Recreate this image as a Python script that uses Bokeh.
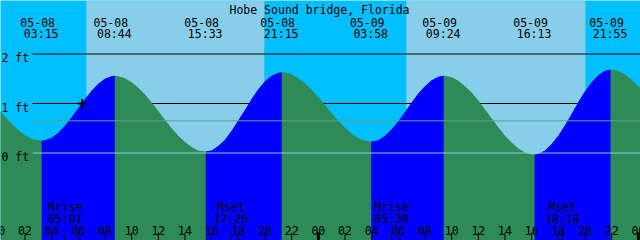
from bokeh.plotting import figure
from bokeh.models import Range1d
from bokeh.core.properties import value
from bokeh.embed import file_html
from bokeh.resources import INLINE

TITLE = "Hobe Sound bridge, Florida"

# tide extremes, hours after 05-08 00:00, feet
ext_hours = [-3.5, 3.25, 8.733, 15.55, 21.25, 27.967, 33.4, 40.217, 45.917, 52.6]
ext_heights = [1.60, 0.25, 1.56, 0.03, 1.63, 0.23, 1.56, -0.03, 1.68, 0.20]
ext_kind = ["H", "L", "H", "L", "H", "L", "H", "L", "H", "L"]

# labelled extremes
event_hours = [3.25, 8.733, 15.55, 21.25, 27.967, 33.4, 40.217, 45.917]
event_dates = ["05-08", "05-08", "05-08", "05-08", "05-09", "05-09", "05-09", "05-09"]
event_times = ["03:15", "08:44", "15:33", "21:15", "03:58", "09:24", "16:13", "21:55"]

# tide height read every half hour (hour 0.0 .. 49.0)
sample_hours = [i * 0.5 for i in range(99)]
sample_heights = [
    0.89, 0.73, 0.59, 0.46, 0.36, 0.29, 0.26, 0.26, 0.31, 0.41,
    0.55, 0.72, 0.91, 1.09, 1.26, 1.40, 1.50, 1.55, 1.55, 1.51,
    1.43, 1.32, 1.18, 1.02, 0.85, 0.67, 0.50, 0.35, 0.22, 0.12,
    0.05, 0.03, 0.05, 0.14, 0.27, 0.45, 0.66, 0.87, 1.09, 1.29,
    1.45, 1.56, 1.62, 1.63, 1.59, 1.51, 1.41, 1.28, 1.13, 0.97,
    0.80, 0.65, 0.51, 0.39, 0.30, 0.25, 0.23, 0.26, 0.35, 0.48,
    0.64, 0.83, 1.02, 1.20, 1.35, 1.47, 1.54, 1.56, 1.53, 1.46,
    1.35, 1.22, 1.06, 0.88, 0.70, 0.52, 0.35, 0.21, 0.09, 0.01,
    -0.03, -0.02, 0.05, 0.18, 0.35, 0.56, 0.79, 1.03, 1.25, 1.43,
    1.57, 1.66, 1.68, 1.65, 1.59, 1.48, 1.35, 1.20, 1.03]

# sun
sunrise_hours = [6.6, 30.6]
sunset_hours = [19.95, 44.03]

# moon
moon_hours = [5.017, 17.433, 29.5, 42.3]
moon_kinds = ["Mrise", "Mset", "Mrise", "Mset"]
moon_times = ["05:01", "17:26", "05:30", "18:18"]

# hour axis
tick_hours = list(range(0, 50, 2))
tick_labels = ["%02d" % (h % 24) for h in tick_hours]

# levels
level_values = [2, 1, 0]
level_labels = ["2 ft", "1 ft", "0 ft"]
msl_level = 0.65
now_hour, now_height = 6.29, 1.0

# colours
NIGHT = "#00BFFF"
DAY = "#87CEEB"
RISE = "#0000FF"
FALL = "#2E8B57"
DATUM = "#87CEEB"
MSL = "#5FA08C"

W, H = 640, 240
PX_PER_HOUR = 640 / 48.0
X0 = 2.17 / PX_PER_HOUR
X1 = X0 + 48.0
Y_TOP = 152.5 / 49.5
Y_BOT = (152.5 - 240) / 49.5


def sx(px):
    return X0 + px * (X1 - X0) / W


def sy(py):
    return Y_TOP - py * (Y_TOP - Y_BOT) / H


p = figure(width=W, height=H, x_range=Range1d(X0, X1), y_range=Range1d(Y_BOT, Y_TOP),
           toolbar_location=None, output_backend="svg", min_border=0,
           x_axis_location=None, y_axis_location=None)
p.outline_line_color = None
p.xgrid.visible = False
p.ygrid.visible = False
p.background_fill_color = NIGHT
p.border_fill_color = NIGHT

# sky
p.quad(left=sunrise_hours, right=sunset_hours, bottom=Y_BOT, top=Y_TOP,
       fill_color=DAY, line_color=None)

# black level lines (behind water)
line_start = sx(32)
for lv in [2, 1]:
    p.line([line_start, X1], [lv, lv], line_color="black", line_width=1)

# water curve
pts = sorted(set(zip(sample_hours, sample_heights)) | set(zip(ext_hours, ext_heights)))
cx = [a for a, b in pts]
cy = [b for a, b in pts]
p.varea(x=cx, y1=[Y_BOT] * len(cx), y2=cy, fill_color=FALL)
for i in range(len(ext_hours) - 1):
    if ext_kind[i] == "L":
        a, b = ext_hours[i], ext_hours[i + 1]
        seg = [(x, y) for x, y in pts if a <= x <= b]
        p.varea(x=[s[0] for s in seg], y1=[Y_BOT] * len(seg), y2=[s[1] for s in seg],
                fill_color=RISE)

# datum and mean lines
p.line([line_start, X1], [msl_level, msl_level], line_color=MSL, line_width=1)
p.line([line_start, X1], [0, 0], line_color=DATUM, line_width=1)

# now mark
p.scatter([now_hour], [now_height], marker="cross", size=9, line_width=2, line_color="black")

FONT = value("DejaVu Sans Mono")
FS = "11.5px"


def txt(x, y, t, align="center", xo=0):
    p.text(x=x, y=y, text=t, text_font=FONT, text_font_size=FS, text_color="black",
           text_align=align, text_baseline="alphabetic", x_offset=xo)


# title
txt([sx(319)], [sy(9.5)], [TITLE])

# level labels
for lv, lab in zip(level_values, level_labels):
    txt([sx(1)], [lv - 4 / 49.5], [lab], align="left")

# tide events
txt(event_hours, [sy(22)] * len(event_hours), event_dates, xo=-4)
txt(event_hours, [sy(33.5)] * len(event_hours), event_times, xo=-0.5)

# moon events
txt(moon_hours, [sy(206)] * 4, moon_kinds)
txt(moon_hours, [sy(218.5)] * 4, moon_times)

# hour ticks and labels
txt(tick_hours, [sy(229.5)] * len(tick_hours), tick_labels)
norm = [h for h in tick_hours if h % 24 != 0] + moon_hours
p.segment(x0=norm, x1=norm, y0=[sy(232)] * len(norm), y1=[sy(240)] * len(norm),
          line_color="black", line_width=1)
mid = [h for h in tick_hours if h % 24 == 0]
p.segment(x0=mid, x1=mid, y0=[sy(232)] * len(mid), y1=[sy(240)] * len(mid),
          line_color="black", line_width=3)

open("out.html", "w").write(file_html(p, INLINE))
